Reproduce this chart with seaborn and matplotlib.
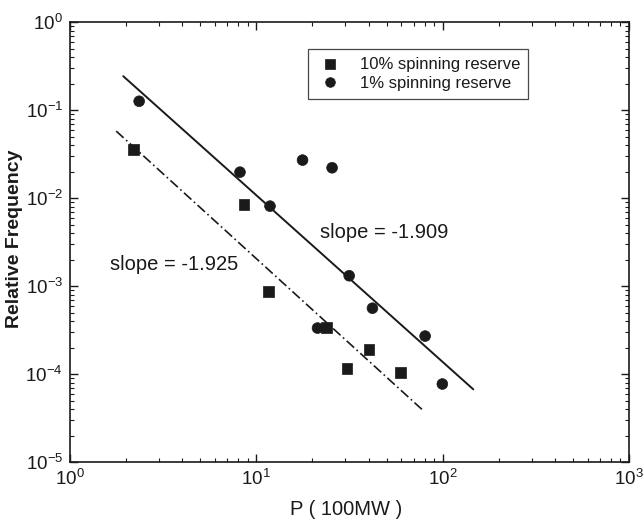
import numpy as np
import pandas as pd
import matplotlib
matplotlib.use("Agg")
import matplotlib.pyplot as plt
import seaborn as sns
from matplotlib.ticker import LogLocator, NullFormatter

sns.set_theme(style="white")
plt.rcParams['font.family'] = ['Liberation Sans', 'DejaVu Sans']

# Data
p10 = [2.19, 8.59, 11.6, 23.7, 30.7, 40.3, 59.3]
f10 = [0.0357, 0.0084, 8.7e-4, 3.39e-4, 1.16e-4, 1.89e-4, 1.05e-4]
p1 = [2.35, 8.17, 11.84, 17.7, 25.5, 31.5, 42.0, 21.3, 80.5, 99.6]
f1 = [0.126, 0.0197, 0.0081, 0.027, 0.0221, 0.00131, 5.6e-4, 3.33e-4, 2.7e-4, 7.7e-5]
series_names = ["10% spinning reserve", "1% spinning reserve"]

fit1_x = [1.93, 146.0]
fit1_y = [0.243, 6.7e-5]
fit10_x = [1.77, 78.8]
fit10_y = [0.0577, 3.83e-5]
slope_labels = ["slope = -1.909", "slope = -1.925"]

df = pd.DataFrame({
    "P": p10 + p1,
    "freq": f10 + f1,
    "series": [series_names[0]] * len(p10) + [series_names[1]] * len(p1),
})

fig = plt.figure(figsize=(6.44, 5.2), dpi=100)
ax = fig.add_axes([0.1087, 0.1115, 0.868, 0.846])

ink = "#1a1a1a"

sns.lineplot(x=fit1_x, y=fit1_y, ax=ax, color=ink, lw=1.4, linestyle="-", legend=False)
sns.lineplot(x=fit10_x, y=fit10_y, ax=ax, color=ink, lw=1.2, linestyle=(0, (6, 2, 1, 2)), legend=False)

sns.scatterplot(data=df, x="P", y="freq", style="series", markers={series_names[0]: "s", series_names[1]: "o"},
                color=ink, s=60, edgecolor=ink, linewidth=0.5, ax=ax, zorder=3)

ax.set_xscale("log")
ax.set_yscale("log")
ax.set_xlim(1, 1000)
ax.set_ylim(1e-5, 1)

ax.xaxis.set_major_locator(LogLocator(base=10, numticks=10))
ax.yaxis.set_major_locator(LogLocator(base=10, numticks=10))
ax.xaxis.set_minor_locator(LogLocator(base=10, subs=np.arange(2, 10), numticks=20))
ax.yaxis.set_minor_locator(LogLocator(base=10, subs=np.arange(2, 10), numticks=20))
ax.xaxis.set_minor_formatter(NullFormatter())
ax.yaxis.set_minor_formatter(NullFormatter())

ax.tick_params(which="both", direction="in", top=True, right=True, bottom=True, left=True, colors=ink,
               labelcolor=ink)
ax.tick_params(which="major", length=6, width=1.0, labelsize=13.5, pad=5)
ax.tick_params(which="minor", length=3, width=0.8)
for sp in ax.spines.values():
    sp.set_color(ink)
    sp.set_linewidth(1.2)

ax.set_xlabel("P ( 100MW )", fontsize=14.5, color=ink, va="center")
ax.xaxis.set_label_coords(0.4946, -0.107)
ax.set_ylabel("Relative Frequency", fontsize=14, fontweight="bold", color=ink, va="center")
ax.yaxis.set_label_coords(-0.1, 0.507)

t1 = ax.text(320, 520 - 233, slope_labels[0], transform=None, fontsize=14.5, color=ink, va="center", ha="left")
t2 = ax.text(110, 520 - 265, slope_labels[1], transform=None, fontsize=14.5, color=ink, va="center", ha="left")

leg = ax.legend(loc="upper left", bbox_to_anchor=(0.4258, 0.9386), borderaxespad=0, frameon=True, fancybox=False,
                fontsize=12, handlelength=1.6, handletextpad=1.0, borderpad=0.5, labelspacing=0.2,
                markerscale=0.9)
leg.get_frame().set_edgecolor(ink)
leg.get_frame().set_linewidth(0.9)
for txt in leg.get_texts():
    txt.set_color(ink)

fig.savefig("out.png", dpi=100)
